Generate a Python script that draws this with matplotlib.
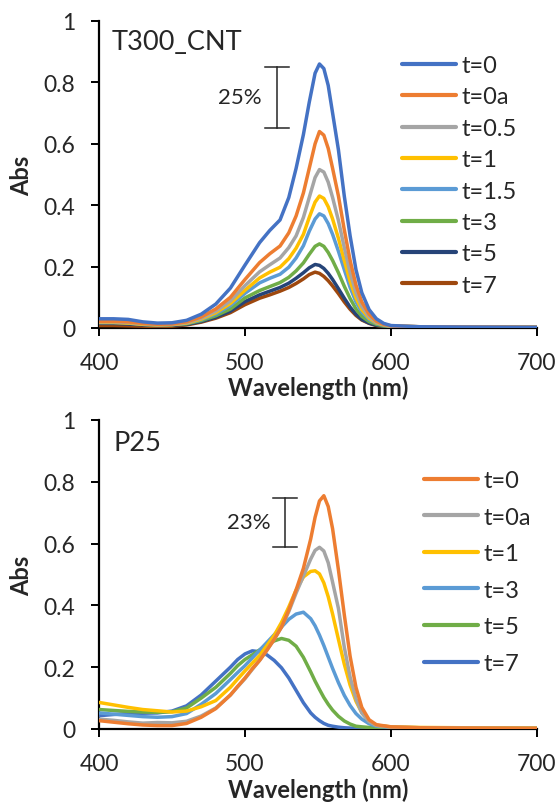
import matplotlib
matplotlib.use("Agg")
import matplotlib.pyplot as plt

plt.rcParams['font.family'] = ['Lato', 'DejaVu Sans']

# ---------------- Data: T300_CNT ----------------
wl_t = [400, 410, 420, 430, 440, 450, 460, 470, 480, 490, 500, 510, 517, 524, 530,
        535, 540, 544, 548, 551, 554, 557, 560, 564, 568, 572, 576, 580, 585, 590,
        595, 600, 620, 650, 700]
t_labels = ["t=0", "t=0a", "t=0.5", "t=1", "t=1.5", "t=3", "t=5", "t=7"]
t_colors = ["#4472C4", "#ED7D31", "#A5A5A5", "#FFC000", "#5B9BD5", "#70AD47", "#264478", "#9E480E"]
t_0 = [.030, .030, .028, .020, .016, .017, .025, .045, .078, .130, .205, .278, .318, .352, .425,
       .520, .630, .735, .830, .860, .845, .790, .700, .580, .430, .300, .190, .115, .060, .030,
       .015, .008, .004, .003, .002]
t_0a = [.022, .022, .020, .015, .012, .013, .020, .036, .062, .100, .158, .213, .242, .267, .310,
        .365, .440, .520, .600, .640, .628, .585, .520, .430, .320, .220, .140, .085, .045, .022,
        .012, .007, .004, .003, .002]
t_05 = [.020, .020, .018, .014, .011, .012, .018, .032, .055, .088, .138, .183, .206, .228, .262,
        .300, .360, .425, .490, .516, .508, .475, .425, .350, .262, .180, .115, .070, .037, .019,
        .011, .006, .004, .003, .002]
t_1 = [.018, .018, .016, .012, .010, .011, .016, .029, .050, .080, .123, .163, .182, .198, .226,
       .260, .305, .360, .410, .430, .422, .395, .355, .292, .220, .152, .098, .060, .032, .017,
       .010, .006, .004, .003, .002]
t_15 = [.018, .018, .016, .012, .010, .011, .015, .027, .046, .073, .113, .147, .162, .175, .198,
        .228, .268, .315, .355, .372, .365, .340, .305, .250, .190, .132, .085, .052, .028, .015,
        .009, .005, .004, .003, .002]
t_3 = [.020, .020, .018, .012, .010, .011, .014, .024, .040, .062, .098, .122, .135, .148, .165,
       .186, .212, .240, .266, .274, .266, .246, .220, .180, .136, .096, .062, .038, .021, .012,
       .007, .005, .004, .003, .002]
t_5 = [.015, .015, .013, .010, .008, .009, .012, .021, .035, .055, .086, .108, .120, .132, .146,
       .162, .180, .196, .207, .204, .194, .178, .158, .128, .097, .068, .045, .028, .016, .009,
       .006, .004, .003, .003, .002]
t_7 = [.008, .008, .007, .006, .005, .006, .010, .019, .032, .050, .076, .097, .108, .120, .132,
       .145, .160, .174, .182, .178, .168, .154, .137, .112, .085, .061, .041, .026, .015, .008,
       .005, .003, .003, .002, .002]
t_series = [t_0, t_0a, t_05, t_1, t_15, t_3, t_5, t_7]

# ---------------- Data: P25 ----------------
wl_p = [400, 410, 420, 430, 440, 450, 460, 470, 480, 490, 495, 500, 505, 510, 515, 520, 525,
        530, 535, 540, 545, 548, 551, 554, 557, 560, 564, 568, 572, 576, 580, 585, 590, 600,
        620, 650, 700]
p_labels = ["t=0", "t=0a", "t=1", "t=3", "t=5", "t=7"]
p_colors = ["#ED7D31", "#A5A5A5", "#FFC000", "#5B9BD5", "#70AD47", "#4472C4"]
p_0 = [.027, .022, .017, .013, .011, .011, .018, .038, .066, .110, .138, .165, .195, .222, .255,
       .290, .330, .385, .450, .520, .615, .685, .738, .755, .720, .648, .515, .370, .235, .135,
       .070, .030, .014, .007, .004, .003, .002]
p_0a = [.032, .028, .023, .019, .021, .020, .025, .042, .068, .110, .137, .163, .193, .222, .255,
        .290, .330, .380, .440, .495, .550, .578, .588, .576, .538, .475, .390, .265, .168, .098,
        .052, .024, .012, .006, .004, .003, .002]
p_1 = [.086, .078, .070, .063, .059, .055, .058, .072, .092, .135, .162, .188, .213, .238, .270,
       .303, .345, .395, .450, .492, .510, .512, .502, .473, .428, .372, .290, .210, .142, .090,
       .053, .025, .012, .007, .005, .004, .003]
p_3 = [.052, .048, .044, .040, .038, .040, .050, .080, .115, .160, .183, .205, .230, .255, .280,
       .305, .330, .355, .372, .378, .357, .334, .304, .270, .233, .196, .150, .109, .076, .050,
       .032, .017, .009, .005, .004, .003, .002]
p_5 = [.063, .060, .057, .055, .054, .056, .068, .100, .135, .180, .205, .225, .240, .256, .272,
       .285, .293, .287, .268, .232, .185, .155, .128, .102, .080, .061, .041, .026, .016, .009,
       .007, .005, .004, .003, .003, .002, .002]
p_7 = [.043, .047, .050, .051, .052, .058, .075, .110, .155, .200, .225, .243, .253, .250, .240,
       .222, .198, .165, .125, .085, .052, .038, .027, .018, .012, .009, .006, .004, .003, .003,
       .002, .002, .002, .002, .002, .002, .002]
p_series = [p_0, p_0a, p_1, p_3, p_5, p_7]

x_ticks = [400, 500, 600, 700]
y_ticks = [0, 0.2, 0.4, 0.6, 0.8, 1]
y_ticklabels = ["0", "0.2", "0.4", "0.6", "0.8", "1"]

TXT = "#262626"
W, H = 560, 804

fig = plt.figure(figsize=(W / 100, H / 100), dpi=100)
ax1 = fig.add_axes([99 / W, 1 - 329 / H, 438 / W, 307 / H])
ax2 = fig.add_axes([99 / W, 1 - 730 / H, 438 / W, 309 / H])


def style(ax):
    ax.set_xlim(400, 700)
    ax.set_ylim(0, 1)
    for s in ("top", "right"):
        ax.spines[s].set_visible(False)
    for s in ("left", "bottom"):
        ax.spines[s].set_linewidth(1.6)
        ax.spines[s].set_color("black")
    ax.set_xticks(x_ticks)
    ax.set_yticks(y_ticks)
    ax.set_yticklabels(y_ticklabels)
    ax.tick_params(axis="both", direction="out", length=6, width=1.4, color="black",
                   labelsize=16.5, labelcolor=TXT)
    ax.tick_params(axis="x", pad=11)
    ax.tick_params(axis="y", pad=11)
    ax.set_xlabel("Wavelength (nm)", fontsize=17, fontweight="bold", color=TXT)
    ax.set_ylabel("Abs", fontsize=17, fontweight="bold", color=TXT)
    ax.yaxis.set_label_coords(-0.15, 0.5)


style(ax1)
style(ax2)
ax1.xaxis.set_label_coords(0.5, -0.156)
ax2.xaxis.set_label_coords(0.5, -0.157)

lines1 = []
for lab, col, ys in zip(t_labels, t_colors, t_series):
    ln, = ax1.plot(wl_t, ys, color=col, lw=2.5, label=lab, solid_capstyle="round",
                   solid_joinstyle="round")
    lines1.append(ln)
for i, ln in enumerate(lines1):
    ln.set_zorder(10 - i)

lines2 = []
for lab, col, ys in zip(p_labels, p_colors, p_series):
    ln, = ax2.plot(wl_p, ys, color=col, lw=2.5, label=lab, solid_capstyle="round",
                   solid_joinstyle="round")
    lines2.append(ln)
for i, ln in enumerate(lines2):
    ln.set_zorder(10 - i)

# Panel titles
fig.text(112 / W, 1 - 42 / H, "T300_CNT", fontsize=19.5, color=TXT, va="center", ha="left")
fig.text(114 / W, 1 - 444 / H, "P25", fontsize=19.5, color=TXT, va="center", ha="left")


def pct_bar(ax, x, y0, y1, half, label):
    ax.plot([x, x], [y0, y1], color="#262626", lw=1.1, zorder=20)
    ax.plot([x - half, x + half], [y0, y0], color="#262626", lw=1.1, zorder=20)
    ax.plot([x - half, x + half], [y1, y1], color="#262626", lw=1.1, zorder=20)
    ax.text(x - 25, (y0 + y1) / 2, label, fontsize=16, color=TXT, ha="center", va="center")


pct_bar(ax1, 521.6, 0.652, 0.851, 8.2, "25%")
pct_bar(ax2, 527.4, 0.59, 0.748, 8.4, "23%")

leg1 = ax1.legend(handles=lines1, loc="upper left", bbox_to_anchor=(402 / W, 1 - 56 / H),
                  bbox_transform=fig.transFigure, frameon=False, fontsize=17,
                  handlelength=2.3, handletextpad=0.2, labelspacing=0.44,
                  borderpad=0, borderaxespad=0)
leg2 = ax2.legend(handles=lines2, loc="upper left", bbox_to_anchor=(424 / W, 1 - 471 / H),
                  bbox_transform=fig.transFigure, frameon=False, fontsize=17,
                  handlelength=2.3, handletextpad=0.2, labelspacing=0.66,
                  borderpad=0, borderaxespad=0)
for leg in (leg1, leg2):
    for t in leg.get_texts():
        t.set_color(TXT)
    for l in leg.get_lines():
        l.set_linewidth(3.0)

fig.savefig("out.png", dpi=100)
